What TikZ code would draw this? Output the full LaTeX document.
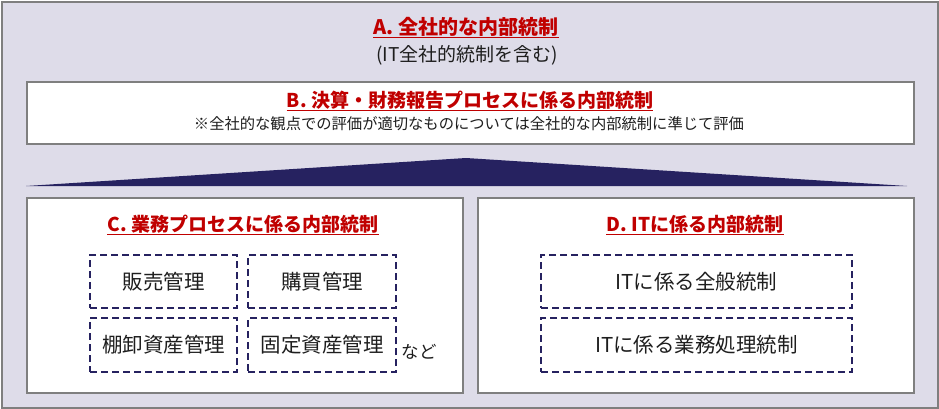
\documentclass[tikz,border=0pt]{standalone}
\usepackage{fontspec}
\setmainfont{Noto Sans CJK JP}
\usetikzlibrary{calc}
\definecolor{bgl}{RGB}{222,220,233}
\definecolor{frame}{RGB}{127,127,127}
\definecolor{navy}{RGB}{38,34,96}
\definecolor{ttlred}{RGB}{192,0,0}
\definecolor{txt}{RGB}{30,30,30}
\tikzset{
  panel/.style={draw=frame, line width=2pt, fill=white, anchor=north west, inner sep=0pt},
  dbox/.style={draw=navy, line width=2pt, dash pattern=on 7pt off 4pt, anchor=north west, inner sep=0pt},
  ttl/.style={text=ttlred, font=\bfseries, inner sep=0pt, anchor=base},
  btxt/.style={text=txt, inner sep=0pt},
  uline/.style={draw=ttlred, line width=1.6pt}
}
\newcommand{\fsz}[1]{\fontsize{#1}{#1}\selectfont}
\begin{document}
\begin{tikzpicture}[x=1pt,y=-1pt]
\useasboundingbox (0,0) rectangle (939,409);
% outer
\node[draw=frame, line width=2pt, fill=bgl, anchor=north west, minimum width=936pt, minimum height=406pt, inner sep=0pt] (outer) at (1,1) {};
% A
\node[ttl, font=\fsz{20}\bfseries] (ta) at (466,34.5) {A. 全社的な内部統制};
\draw[uline] ($(ta.base west)+(0,3)$) -- ($(ta.base east)+(0,3)$);
\node[btxt, font=\fsz{19}] (sa) at (467,55) {(IT全社的統制を含む)};
% B
\node[panel, minimum width=887pt, minimum height=62pt] (pb) at (26,81) {};
\node[ttl, font=\fsz{19}\bfseries] (tb) at (470,107.5) {B. 決算・財務報告プロセスに係る内部統制};
\draw[uline] ($(tb.base west)+(0,3)$) -- ($(tb.base east)+(0,3)$);
\node[btxt, font=\fsz{15.3}] (nb) at (469,124) {※全社的な観点での評価が適切なものについては全社的な内部統制に準じて評価};
% triangle
\coordinate (tl) at (26,186);
\coordinate (tp) at (466,158);
\coordinate (tr) at (907,186);
\fill[navy] (tl) -- (tp) -- (tr) -- cycle;
% C
\node[panel, minimum width=436pt, minimum height=195pt] (pc) at (26,197) {};
\node[ttl, font=\fsz{19}\bfseries] (tc) at (243,231.5) {C. 業務プロセスに係る内部統制};
\draw[uline] ($(tc.base west)+(0,3)$) -- ($(tc.base east)+(0,3)$);
\node[dbox, minimum width=147pt, minimum height=53pt] (c1) at (89,254) {};
\node[dbox, minimum width=148pt, minimum height=53pt] (c2) at (247,254) {};
\node[dbox, minimum width=147pt, minimum height=54pt] (c3) at (89,317) {};
\node[dbox, minimum width=148pt, minimum height=54pt] (c4) at (247,317) {};
\node[btxt, font=\fsz{20.5}] at (c1) {販売管理};
\node[btxt, font=\fsz{20.5}] at (c2) {購買管理};
\node[btxt, font=\fsz{20.5}] at (c3) {棚卸資産管理};
\node[btxt, font=\fsz{20.5}] at (c4) {固定資産管理};
\node[btxt, font=\fsz{17.5}] (etc) at (419,352) {など};
% D
\node[panel, minimum width=436pt, minimum height=195pt] (pd) at (477,197) {};
\node[ttl, font=\fsz{19}\bfseries] (td) at (695,231.5) {D. ITに係る内部統制};
\draw[uline] ($(td.base west)+(0,3)$) -- ($(td.base east)+(0,3)$);
\node[dbox, minimum width=311pt, minimum height=53pt] (d1) at (540,254) {};
\node[dbox, minimum width=311pt, minimum height=54pt] (d2) at (540,317) {};
\node[btxt, font=\fsz{20.5}] at (d1) {ITに係る全般統制};
\node[btxt, font=\fsz{20.5}] at (d2) {ITに係る業務処理統制};
\end{tikzpicture}
\end{document}
